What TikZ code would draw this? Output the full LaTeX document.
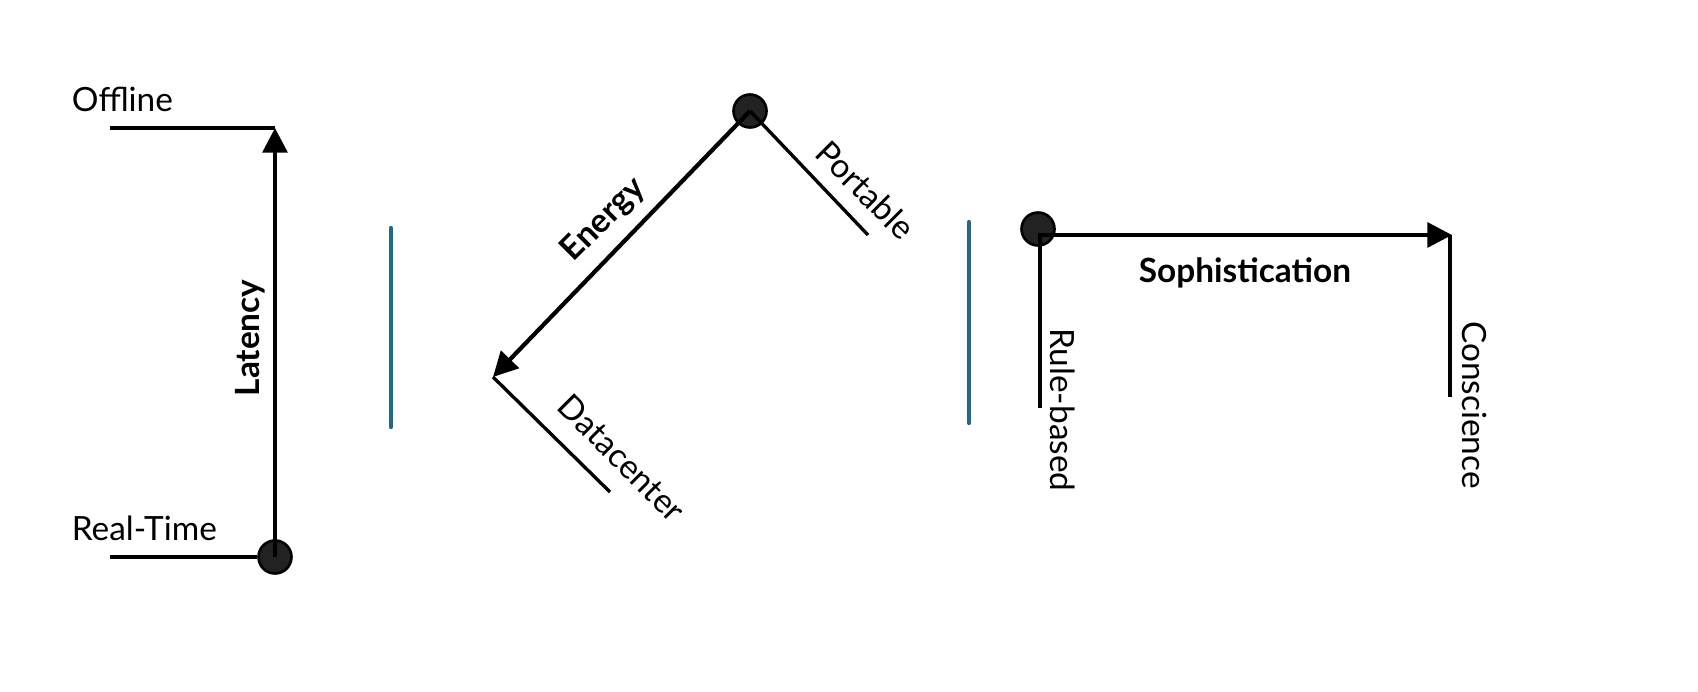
\documentclass[tikz,border=0pt]{standalone}
\usepackage{fontspec}
\setmainfont{Lato}
\usetikzlibrary{arrows.meta}
\definecolor{barblue}{RGB}{ 33, 105, 140 }
\definecolor{dotgray}{RGB}{ 34, 34, 34 }

\begin{document}
\begin{tikzpicture}[x=0.02cm,y=-0.02cm,font=\fontsize{19}{22}\selectfont]
\tikzstyle{axis}=[line width=2.4pt,-{Triangle[length=14pt,width=14pt]}]
\tikzstyle{tick line}=[line width=1.9pt]
\tikzstyle{dot}=[circle,draw=black,line width=1.5pt,fill=dotgray,minimum size=0.66cm,inner sep=0]
\tikzstyle{bar}=[line width=2.4pt,barblue,line cap=round]
\useasboundingbox (0,0) rectangle (1698,692);

% latency
\node(rt)[dot] at (275,557) {};
\coordinate (off) at (275,128);
\coordinate (offl) at (110,128);
\coordinate (rtl) at (110,557);
\draw[tick line] (offl) -- (off);
\draw[tick line] (rtl) -- (rt);
\draw[axis] (rt.center) -- (off);
\node(offtxt)[anchor=south west,inner sep=2pt] at (68,116) {Offline};
\node(rttxt)[anchor=south west,inner sep=2pt] at (68,545) {Real-Time};
\node(lat)[rotate=90] at (250,338) {\textbf{Latency}};

\draw[bar] (391,228) -- (391,427);

% energy
\node(port)[dot] at (750,111) {};
\coordinate (dc) at (493,377);
\coordinate (portend) at (868,235);
\coordinate (dcend) at (610,492);
\draw[tick line] (port.center) -- (portend);
\draw[tick line] (dc) -- (dcend);
\draw[axis] (port.center) -- (dc);
\node(porttxt)[rotate=-45] at (866,190) {Portable};
\node(dctxt)[rotate=-45] at (622,458) {Datacenter};
\node(en)[rotate=45] at (604,220) {\textbf{Energy}};

\draw[bar] (969,222) -- (969,423);

% sophistication
\node(rule)[dot] at (1038,229) {};
\coordinate (cons) at (1452,235);
\coordinate (ruleend) at (1040,408);
\coordinate (consend) at (1450,397);
\draw[tick line] (1040,235) -- (ruleend);
\draw[tick line] (1450,235) -- (consend);
\draw[axis] (rule.center) ++(0,6) -- (cons);
\node(ruletxt)[rotate=-90] at (1063,410) {Rule-based};
\node(constxt)[rotate=-90] at (1475,405) {Conscience};
\node(soph) at (1245,273) {\textbf{Sophistication}};
\end{tikzpicture}
\end{document}
